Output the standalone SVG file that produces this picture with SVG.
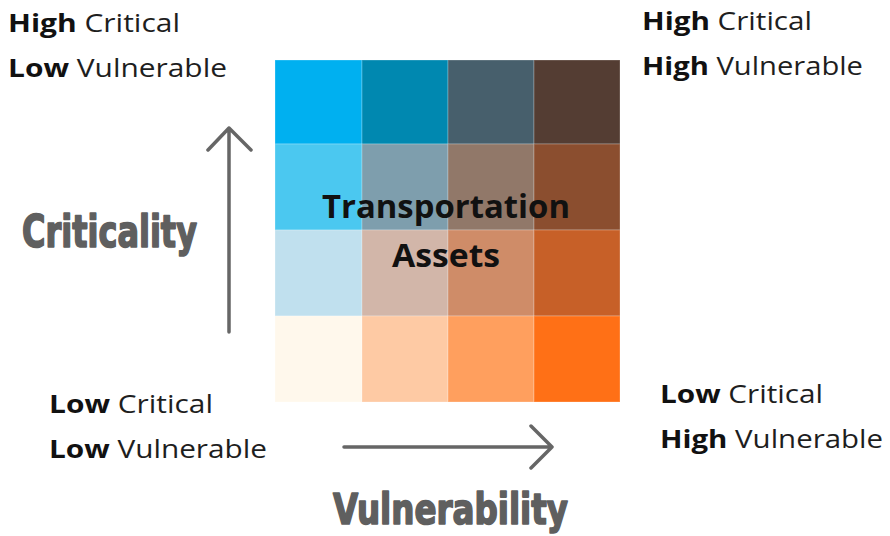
<svg xmlns="http://www.w3.org/2000/svg" width="890" height="536" viewBox="0 0 890 536">
  <defs>
    <style>
      .corner { font-family: "Open Sans", "Liberation Sans", sans-serif; font-size: 25px; fill: #1e1e1e; }
      .corner .b { font-weight: bold; fill: #111; }
      .axis { font-family: "Liberation Sans Narrow", "DejaVu Sans Condensed", "Liberation Sans", sans-serif; font-weight: bold; fill: #5f5f5f; stroke: #5f5f5f; stroke-width: 1.6; stroke-linejoin: round; }
      .center { font-family: "Open Sans", "Liberation Sans", sans-serif; font-weight: bold; font-size: 32px; fill: #111; }
      .cell { stroke: #ffffff; stroke-opacity: 0.25; stroke-width: 1; }
      .arrow { fill: none; stroke: #666666; stroke-width: 3.5; stroke-linecap: round; stroke-linejoin: round; }
    </style>
  </defs>
  <rect width="890" height="536" fill="#ffffff"/>

  <!-- 4x4 risk matrix -->
  <g id="matrix">
    <rect class="cell" x="275" y="60" width="87" height="84" fill="#00B0F0"/>
    <rect class="cell" x="362" y="60" width="86" height="84" fill="#0088B0"/>
    <rect class="cell" x="448" y="60" width="86" height="84" fill="#475F6C"/>
    <rect class="cell" x="534" y="60" width="86" height="84" fill="#543D33"/>

    <rect class="cell" x="275" y="144" width="87" height="86" fill="#4BC8F0"/>
    <rect class="cell" x="362" y="144" width="86" height="86" fill="#7E9EAD"/>
    <rect class="cell" x="448" y="144" width="86" height="86" fill="#917869"/>
    <rect class="cell" x="534" y="144" width="86" height="86" fill="#8B4E2F"/>

    <rect class="cell" x="275" y="230" width="87" height="86" fill="#C0E0EE"/>
    <rect class="cell" x="362" y="230" width="86" height="86" fill="#D2B6A9"/>
    <rect class="cell" x="448" y="230" width="86" height="86" fill="#CF8C68"/>
    <rect class="cell" x="534" y="230" width="86" height="86" fill="#C76028"/>

    <rect class="cell" x="275" y="316" width="87" height="86" fill="#FFF8EC"/>
    <rect class="cell" x="362" y="316" width="86" height="86" fill="#FECAA4"/>
    <rect class="cell" x="448" y="316" width="86" height="86" fill="#FF9F5E"/>
    <rect class="cell" x="534" y="316" width="86" height="86" fill="#FF7016"/>
  </g>

  <g id="matrix-label">
    <text class="center" x="322" y="218" textLength="248" lengthAdjust="spacingAndGlyphs">Transportation</text>
    <text class="center" x="392" y="267" textLength="108" lengthAdjust="spacingAndGlyphs">Assets</text>
  </g>

  <!-- axis arrows -->
  <g id="connectors">
    <path class="arrow" d="M229 332 V128 M208 150 L229 128 L251 150"/>
    <path class="arrow" d="M344 447 H552 M531 426 L552 447 L531 468"/>
  </g>

  <g id="axis-criticality">
    <text class="axis" x="22" y="247" font-size="44" textLength="175" lengthAdjust="spacingAndGlyphs">Criticality</text>
  </g>
  <g id="axis-vulnerability">
    <text class="axis" x="333" y="524" font-size="42" textLength="235" lengthAdjust="spacingAndGlyphs">Vulnerability</text>
  </g>

  <!-- corner labels -->
  <g id="corner-top-left" class="corner">
    <text x="8" y="32" textLength="172" lengthAdjust="spacingAndGlyphs"><tspan class="b">High</tspan> Critical</text>
    <text x="8" y="77" textLength="219" lengthAdjust="spacingAndGlyphs"><tspan class="b">Low</tspan> Vulnerable</text>
  </g>
  <g id="corner-top-right" class="corner">
    <text x="642" y="30" textLength="170" lengthAdjust="spacingAndGlyphs"><tspan class="b">High</tspan> Critical</text>
    <text x="642" y="75" textLength="221" lengthAdjust="spacingAndGlyphs"><tspan class="b">High</tspan> Vulnerable</text>
  </g>
  <g id="corner-bottom-left" class="corner">
    <text x="49" y="413" textLength="164" lengthAdjust="spacingAndGlyphs"><tspan class="b">Low</tspan> Critical</text>
    <text x="49" y="458" textLength="218" lengthAdjust="spacingAndGlyphs"><tspan class="b">Low</tspan> Vulnerable</text>
  </g>
  <g id="corner-bottom-right" class="corner">
    <text x="660" y="403" textLength="163" lengthAdjust="spacingAndGlyphs"><tspan class="b">Low</tspan> Critical</text>
    <text x="660" y="448" textLength="223" lengthAdjust="spacingAndGlyphs"><tspan class="b">High</tspan> Vulnerable</text>
  </g>
</svg>
